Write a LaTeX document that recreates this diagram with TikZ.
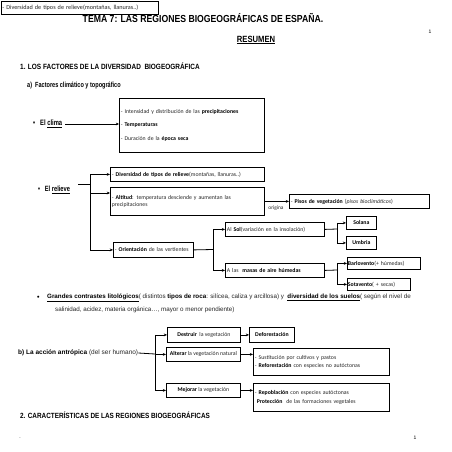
\documentclass[tikz,border=0pt]{standalone}
\usepackage{fontspec}
\setmainfont{Liberation Sans}
\newfontfamily\hd[FakeStretch=0.75]{Liberation Sans}
\newfontfamily\hdt[FakeStretch=0.85]{Liberation Sans}
\newfontfamily\bx{Carlito}
\usetikzlibrary{arrows.meta}
\definecolor{txt}{gray}{0.15}
\begin{document}
\begin{tikzpicture}[x=1pt,y=-1pt,
  box/.style={draw, line width=0.8pt, inner sep=1.5pt, anchor=north west, align=left,
    font=\bx\fontsize{5.8}{6.8}\selectfont, text=txt},
  cbox/.style={box, align=center},
  lbl/.style={inner sep=0pt, anchor=west},
  arr/.style={-{Stealth[length=3.2pt,width=2.8pt]}, line width=0.8pt},
  ln/.style={line width=0.8pt}]
\useasboundingbox[fill=white] (0,0) rectangle (452,452);

% header
\node[box, minimum width=157, minimum height=13, text width=154, font=\bx\fontsize{6.2}{7}\selectfont] (topbox) at (0.5,1)
  {- Diversidad de tipos de relieve(montañas, llanuras..)};
\node[inner sep=0pt, font=\hdt\bfseries\fontsize{10.2}{12}\selectfont] (title) at (203,18)
  {TEMA 7: LAS REGIONES BIOGEOGRÁFICAS DE ESPAÑA.};
\node[inner sep=0pt, font=\fontsize{5}{6}\selectfont] (pg1) at (430,32) {1};
\node[inner sep=0pt, font=\hdt\bfseries\fontsize{9}{11}\selectfont] (resumen) at (256,40) {\underline{RESUMEN}};

\node[lbl, font=\hdt\bfseries\fontsize{7.6}{9}\selectfont] (h1) at (20,66)
  {1. LOS FACTORES DE LA DIVERSIDAD\ \ BIOGEOGRÁFICA};
\node[lbl, font=\hd\bfseries\fontsize{7.4}{9}\selectfont] (ha) at (27,86)
  {a)\ \ Factores climático y topográfico};

% clima
\node[lbl, font=\hd\bfseries\fontsize{7.8}{9}\selectfont] (clima) at (33,124)
  {•\ \ \ El \underline{clima}};
\node[box, minimum width=145, minimum height=54, text width=142] (climabox) at (119,98)
  {- Intensidad y distribución de las \textcolor{black}{\textbf{precipitaciones}}\\[6.5pt]
   - \textcolor{black}{\textbf{Temperaturas}}\\[6.5pt]
   - Duración de la \textcolor{black}{\textbf{época seca}}};
\draw[arr] (clima.east) ++(3,0) -- (climabox.west |- clima.east);

% relieve
\node[lbl, font=\hd\bfseries\fontsize{7.6}{9}\selectfont] (relieve) at (38,190)
  {•\ \ \ El \underline{relieve}};
\node[box, minimum width=154, minimum height=14, text width=151] (rb1) at (110,167)
  {- \textcolor{black}{\textbf{Diversidad de tipos de relieve}}(montañas, llanuras..)};
\node[box, minimum width=154, minimum height=28, text width=151] (rb2) at (110,187)
  {- \textcolor{black}{\textbf{Altitud}}: temperatura desciende y aumentan las\\[1pt] precipitaciones};
\node[box, minimum width=80, minimum height=15, text width=77] (rb3) at (113,242)
  {- \textcolor{black}{\textbf{Orientación}} de las vertientes};
\coordinate (rj) at (90,184);
\draw[ln] (78,184) coordinate (rstart) -- (rj);
\draw[ln] (rj |- rb1.west) -- (rj |- rb3.west);
\draw[arr] (rj |- rb1.west) -- (rb1.west);
\draw[arr] (rj |- 0,193) -- (rb2.west |- 0,193);
\draw[arr] (rj |- rb3.west) -- (rb3.west);

\node[box, minimum width=140, minimum height=14, text width=137] (pisos) at (289,194)
  {- \textcolor{black}{\textbf{Pisos de vegetación}} (\textit{pisos bioclimáticos})};
\draw[arr] (rb2.east) -- (pisos.west |- rb2.east);
\node[inner sep=0pt, font=\bx\fontsize{5.4}{6}\selectfont, text=txt] (origina) at (276,208) {origina};

% orientacion
\node[box, minimum width=99, minimum height=14, text width=96] (sol) at (225,222)
  {Al \textcolor{black}{\textbf{Sol}}(variación en la insolación)};
\node[box, minimum width=99, minimum height=14, text width=96] (masas) at (225,263)
  {A las\ \ \textcolor{black}{\textbf{masas de aire húmedas}}};
\coordinate (oj) at (213,249.5);
\draw[ln] (rb3.east) -- (oj);
\draw[ln] (oj |- sol.west) -- (oj |- masas.west);
\draw[arr] (oj |- sol.west) -- (sol.west);
\draw[arr] (oj |- masas.west) -- (masas.west);

\node[cbox, minimum width=30, minimum height=13, text=black] (solana) at (346,216) {\textbf{Solana}};
\node[cbox, minimum width=30, minimum height=13, text=black] (umbria) at (346,236) {\textbf{Umbria}};
\coordinate (sj) at (337,229);
\draw[ln] (sol.east) -- (sj);
\draw[ln] (sj |- solana.west) -- (sj |- umbria.west);
\draw[arr] (sj |- solana.west) -- (solana.west);
\draw[arr] (sj |- umbria.west) -- (umbria.west);

\node[box, minimum width=73, minimum height=12, text width=72, inner sep=0.5pt] (barlo) at (347,257)
  {\textcolor{black}{\textbf{Barlovento}}(+ húmedas)};
\node[box, minimum width=63, minimum height=12, text width=62, inner sep=0.5pt] (sota) at (347,278)
  {\textcolor{black}{\textbf{Sotavento}}( + secas)};
\coordinate (mj) at (337,270);
\draw[ln] (masas.east) -- (mj);
\draw[ln] (mj |- barlo.west) -- (mj |- sota.west);
\draw[arr] (mj |- barlo.west) -- (barlo.west);
\draw[arr] (mj |- sota.west) -- (sota.west);

% grandes contrastes
\node[lbl, font=\bfseries\fontsize{7}{9}\selectfont] (gbul) at (37,298) {•};
\node[lbl, font=\fontsize{6.25}{8}\selectfont, text=txt] (g1) at (47,298)
  {\textcolor{black}{\textbf{\underline{Grandes contrastes litológicos}}}( distintos \textcolor{black}{\textbf{tipos de roca}}: silícea, caliza y arcillosa) y\ \ \textcolor{black}{\textbf{\underline{diversidad de los suelos}}}( según el nivel de};
\node[lbl, font=\fontsize{6.25}{8}\selectfont, text=txt] (g2) at (55,310)
  {salinidad, acidez, materia orgánica…, mayor o menor pendiente)};

% accion antropica
\node[lbl, font=\fontsize{6.5}{8}\selectfont, text=txt] (antro) at (18,353)
  {\textcolor{black}{\textbf{b) La acción antrópica}} (del ser humano)};
\node[cbox, minimum width=73, minimum height=15] (destruir) at (167,327)
  {\textcolor{black}{\textbf{Destruir}}\ \ la vegetación};
\node[cbox, minimum width=74, minimum height=14] (alterar) at (166,347)
  {\textcolor{black}{\textbf{Alterar}} la vegetación natural};
\node[cbox, minimum width=74, minimum height=14] (mejorar) at (166,383)
  {\textcolor{black}{\textbf{Mejorar}} la vegetación};
\coordinate (aj) at (155,354);
\draw[ln] (antro.east) -- (aj);
\draw[ln] (aj |- destruir.west) -- (aj |- mejorar.west);
\draw[arr] (aj |- destruir.west) -- (destruir.west);
\draw[arr] (aj |- alterar.west) -- (alterar.west);
\draw[arr] (aj |- mejorar.west) -- (mejorar.west);

\node[cbox, minimum width=45, minimum height=15, text=black] (defo) at (249,327) {\textbf{Deforestación}};
\node[box, minimum width=136, minimum height=27, text width=133] (altbox) at (253,348)
  {- Sustitución por cultivos y pastos\\[2pt]
   - \textcolor{black}{\textbf{Reforestación}} con especies no autóctonas};
\node[box, minimum width=136, minimum height=28, text width=133] (mejbox) at (253,383)
  {- \textcolor{black}{\textbf{Repoblación}} con especies autóctonas\\[2pt]
   \ \textcolor{black}{\textbf{Protección}}\ \ de las formaciones vegetales};
\draw[arr] (destruir.east) -- (defo.west);
\draw[arr] (alterar.east) -- (altbox.west |- alterar.east);
\draw[arr] (mejorar.east) -- (mejbox.west |- mejorar.east);

% section 2 and footer
\node[lbl, font=\hdt\bfseries\fontsize{7.5}{9}\selectfont] (h2) at (20,415)
  {2. CARACTERÍSTICAS DE LAS REGIONES BIOGEOGRÁFICAS};
\node[inner sep=0pt, font=\fontsize{5}{6}\selectfont] (dot) at (20,438) {.};
\node[inner sep=0pt, font=\fontsize{5}{6}\selectfont] (pg2) at (415,438) {1};
\end{tikzpicture}
\end{document}
